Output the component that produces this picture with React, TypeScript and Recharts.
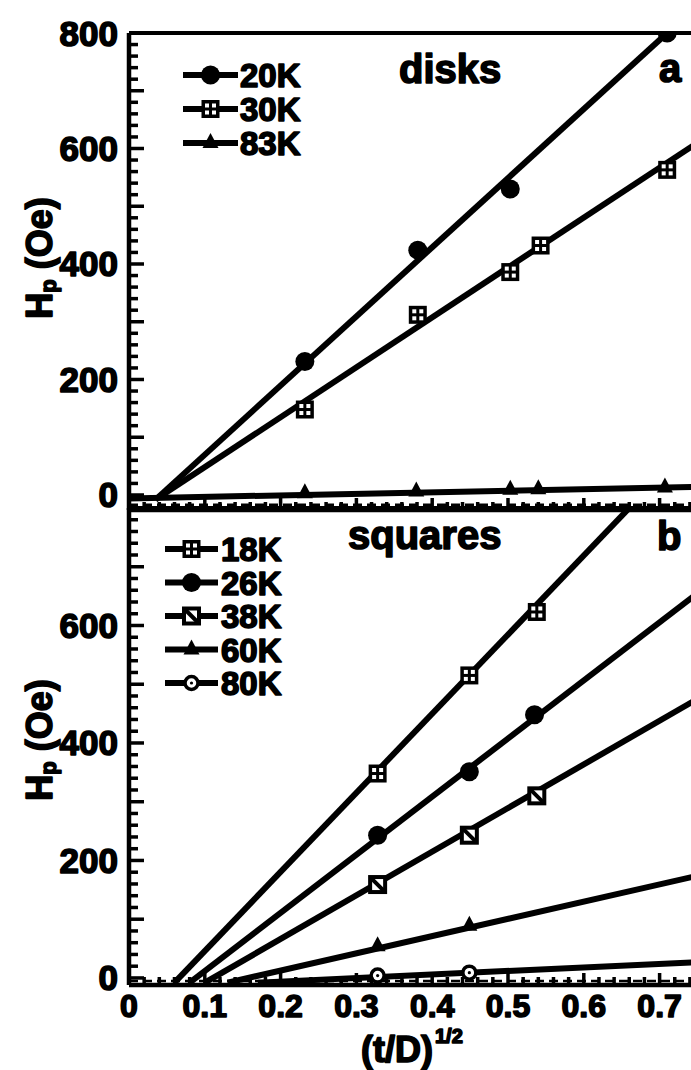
import React from 'react';
import { ComposedChart, Line, Scatter, XAxis, YAxis, ReferenceLine } from 'recharts';

const FONT = '"Liberation Sans", Arial, Helvetica, sans-serif';

// panel a: disks
const diskNames = ['20K', '30K', '83K'];
const diskMarkers = ['circle', 'grid', 'triangle'];
const diskX = [
  [0.232, 0.381, 0.503, 0.71],
  [0.232, 0.381, 0.503, 0.543, 0.71],
  [0.232, 0.379, 0.503, 0.54, 0.707],
];
const diskY = [
  [231, 424, 530, 800],
  [148, 312, 386, 432, 563],
  [3, 6, 9, 10, 13],
];
// straight-line fits (start, end)
const diskFitX = [[0.035, 0.71], [0.035, 0.75], [0, 0.75]];
const diskFitY = [[-8, 800], [-8, 610], [-6, 14]];

// panel b: squares
const squareNames = ['18K', '26K', '38K', '60K', '80K'];
const squareMarkers = ['grid', 'circle', 'slash', 'triangle', 'ring'];
const squareX = [
  [0.328, 0.449, 0.538],
  [0.328, 0.449, 0.535],
  [0.328, 0.449, 0.538],
  [0.328, 0.449],
  [0.328, 0.449],
];
const squareY = [
  [348, 515, 623],
  [243, 351, 448],
  [159, 243, 310],
  [54, 89],
  [4, 9],
];
const squareFitX = [[0.06, 0.66], [0.08, 0.75], [0.1, 0.75], [0.13, 0.75], [0.17, 0.75]];
const squareFitY = [[-8, 800], [-8, 655], [-8, 475], [-8, 174], [-8, 27]];

const diskYLabels = [0, 200, 400, 600, 800];
const squareYLabels = [0, 200, 400, 600];
const xLabelValues = [0, 0.1, 0.2, 0.3, 0.4, 0.5, 0.6, 0.7];
const xLabels = ['0', '0.1', '0.2', '0.3', '0.4', '0.5', '0.6', '0.7'];

const yTicks: number[] = [];
for (let v = 0; v <= 800; v += 20) yTicks.push(v);
const xTicks: number[] = [];
for (let i = 0; i <= 37; i++) xTicks.push(+(i * 0.02).toFixed(2));

const heavy = {
  fontFamily: FONT,
  fontWeight: 700,
  fill: '#000',
  stroke: '#000',
  strokeWidth: 1.6,
  strokeLinejoin: 'round' as const,
};

const Marker = ({ kind, cx, cy }: { kind: string; cx?: number; cy?: number }) => {
  if (cx == null || cy == null) return null;
  switch (kind) {
    case 'circle':
      return <circle cx={cx} cy={cy} r={9.5} fill="#000" />;
    case 'grid':
      return (
        <g>
          <rect x={cx - 9} y={cy - 9} width={18} height={18} fill="#000" />
          <rect x={cx - 5.5} y={cy - 5.5} width={4} height={4} fill="#fff" />
          <rect x={cx + 1.5} y={cy - 5.5} width={4} height={4} fill="#fff" />
          <rect x={cx - 5.5} y={cy + 1.5} width={4} height={4} fill="#fff" />
          <rect x={cx + 1.5} y={cy + 1.5} width={4} height={4} fill="#fff" />
        </g>
      );
    case 'slash':
      return (
        <g>
          <rect x={cx - 7.5} y={cy - 7.5} width={15} height={15} fill="#fff" stroke="#000" strokeWidth={4} />
          <path d={`M${cx - 6},${cy - 6}L${cx + 6},${cy + 6}`} stroke="#000" strokeWidth={4} />
        </g>
      );
    case 'triangle':
      return <path d={`M${cx},${cy - 10}L${cx + 8},${cy + 5}L${cx - 8},${cy + 5}Z`} fill="#000" />;
    case 'ring':
      return (
        <g>
          <circle cx={cx} cy={cy} r={6.5} fill="#fff" stroke="#000" strokeWidth={3.5} />
          <circle cx={cx} cy={cy} r={1.6} fill="#000" />
        </g>
      );
    default:
      return null;
  }
};

const makeYTick = (labels: number[]) => (props: any) => {
  const { x, y, payload } = props;
  const v = payload.value;
  const len = v % 100 === 0 ? 15 : 9;
  return (
    <g>
      <line x1={x} x2={x + len} y1={y} y2={y} stroke="#000" strokeWidth={3.5} />
      {labels.includes(v) && (
        <text x={x - 11} y={y} dy={12.5} textAnchor="end" fontSize={35} {...heavy}>
          {v}
        </text>
      )}
    </g>
  );
};

const makeXTick = (withLabels: boolean) => (props: any) => {
  const { x, y, payload } = props;
  const v = payload.value;
  const hundredths = Math.round(v * 100);
  const len = hundredths % 10 === 0 ? 12 : 8;
  const idx = xLabelValues.findIndex((t) => Math.abs(t - v) < 1e-6);
  return (
    <g>
      <line x1={x} x2={x} y1={y} y2={y - len} stroke="#000" strokeWidth={3.5} />
      {withLabels && idx >= 0 && (
        <text x={x} y={y + 32} textAnchor="middle" fontSize={32} {...heavy}>
          {xLabels[idx]}
        </text>
      )}
    </g>
  );
};

const toPoints = (xs: number[], ys: number[]) => xs.map((x, i) => ({ x, y: ys[i] }));

const Panel = ({
  fitX,
  fitY,
  px,
  py,
  markers,
  domain,
  yLabels,
  top,
  height,
  marginTop,
  xAxisHeight,
  showXLabels,
  dashY,
}: any) => (
  <div style={{ position: 'absolute', left: 0, top }}>
    <ComposedChart
      width={720}
      height={height}
      margin={{ top: marginTop, right: 22.5, bottom: 0, left: 0 }}
    >
      <XAxis
        type="number"
        dataKey="x"
        domain={[0, 0.75]}
        ticks={xTicks}
        interval={0}
        allowDataOverflow
        height={xAxisHeight}
        tickSize={0}
        tickMargin={0}
        tickLine={false}
        axisLine={{ stroke: '#000', strokeWidth: 4.5 }}
        tick={makeXTick(showXLabels)}
      />
      <YAxis
        type="number"
        dataKey="y"
        domain={domain}
        ticks={yTicks}
        interval={0}
        allowDataOverflow
        width={129}
        tickSize={0}
        tickMargin={0}
        tickLine={false}
        axisLine={{ stroke: '#000', strokeWidth: 4.5 }}
        tick={makeYTick(yLabels)}
      />
      <ReferenceLine y={800} stroke="#000" strokeWidth={4} ifOverflow="visible" />
      <ReferenceLine y={dashY} stroke="#000" strokeWidth={2.5} strokeDasharray="9 5" />
      {fitX.map((xs: number[], i: number) => (
        <Line
          key={`fit-${i}`}
          data={toPoints(xs, fitY[i])}
          dataKey="y"
          type="linear"
          stroke="#000"
          strokeWidth={6}
          dot={false}
          activeDot={false}
          isAnimationActive={false}
        />
      ))}
      {px.map((xs: number[], i: number) => (
        <Scatter
          key={`pts-${i}`}
          data={toPoints(xs, py[i])}
          dataKey="y"
          isAnimationActive={false}
          shape={(p: any) => <Marker kind={markers[i]} cx={p.cx} cy={p.cy} />}
        />
      ))}
    </ComposedChart>
  </div>
);

const LegendRows = ({ names, markers, rows, x0, x1, textX }: any) => (
  <g>
    {names.map((name: string, i: number) => (
      <g key={name}>
        <line x1={x0} x2={x1} y1={rows[i]} y2={rows[i]} stroke="#000" strokeWidth={6} />
        <Marker kind={markers[i]} cx={(x0 + x1) / 2} cy={rows[i]} />
        <text x={textX} y={rows[i] + 12} fontSize={33} {...heavy}>
          {name}
        </text>
      </g>
    ))}
  </g>
);

export default function App() {
  return (
    <div
      style={{
        position: 'absolute',
        left: 0,
        top: 0,
        width: 691,
        height: 1070,
        overflow: 'hidden',
        background: '#fff',
      }}
    >
      <Panel
        fitX={diskFitX}
        fitY={diskFitY}
        px={diskX}
        py={diskY}
        markers={diskMarkers}
        domain={[-26, 800]}
        yLabels={diskYLabels}
        top={0}
        height={530}
        marginTop={33}
        xAxisHeight={20}
        showXLabels={false}
        dashY={-17}
      />
      <Panel
        fitX={squareFitX}
        fitY={squareFitY}
        px={squareX}
        py={squareY}
        markers={squareMarkers}
        domain={[-12, 800]}
        yLabels={squareYLabels}
        top={480}
        height={590}
        marginTop={28}
        xAxisHeight={85}
        showXLabels
        dashY={-5}
      />
      <svg
        width={691}
        height={1070}
        style={{ position: 'absolute', left: 0, top: 0, pointerEvents: 'none' }}
      >
        <LegendRows names={diskNames} markers={diskMarkers} rows={[75, 109, 143]} x0={183} x1={238} textX={240} />
        <LegendRows
          names={squareNames}
          markers={squareMarkers}
          rows={[549, 582.5, 616, 649.5, 683]}
          x0={165}
          x1={218}
          textX={221}
        />
        <text x={399} y={83} fontSize={40} {...heavy}>disks</text>
        <text x={659} y={82} fontSize={40} {...heavy}>a</text>
        <text x={348} y={549} fontSize={40} {...heavy}>squares</text>
        <text x={657} y={550} fontSize={40} {...heavy}>b</text>
        {[258, 740].map((cy) => (
          <text key={cy} transform={`translate(52,${cy}) rotate(-90)`} textAnchor="middle" fontSize={36} {...heavy}>
            H<tspan dy={4} fontSize={22}>p</tspan>
            <tspan dy={-4}> (Oe)</tspan>
          </text>
        ))}
        <text x={397} y={1062} textAnchor="middle" fontSize={36} {...heavy}>(t/D)</text>
        <text x={435} y={1043} fontSize={20} {...heavy}>1/2</text>
      </svg>
    </div>
  );
}
